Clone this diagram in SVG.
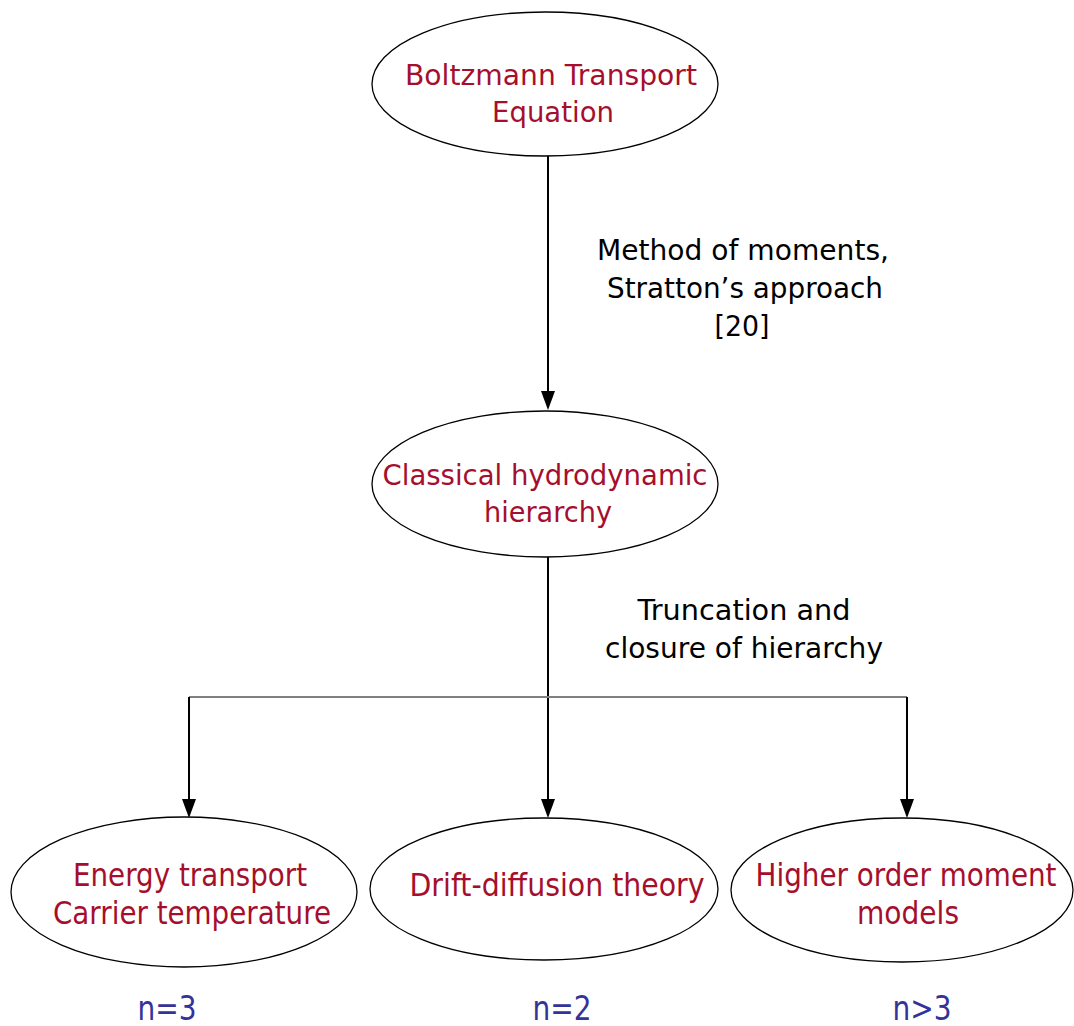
<svg xmlns="http://www.w3.org/2000/svg" width="1074" height="1026" viewBox="0 0 1074 1026">
<style>
.node ellipse{fill:#fff;stroke:#000;stroke-width:1.3}
.nt{font-family:"DejaVu Sans",Verdana,sans-serif;font-size:28px;fill:#a50f2d;text-anchor:middle}
.nb{font-size:32px}
.lt{font-family:"DejaVu Sans",Verdana,sans-serif;font-size:28px;fill:#000;text-anchor:middle}
.bt{font-family:"DejaVu Sans",Verdana,sans-serif;font-size:33px;fill:#333399;text-anchor:middle}
.edge{stroke:#000;stroke-width:2;fill:none}
</style>
<rect width="1074" height="1026" fill="#fff"/>
<g id="connectors">
<line class="edge" x1="548" y1="155" x2="548" y2="393"/>
<path d="M541,391 L555,391 L548,410 Z" fill="#000"/>
<line class="edge" x1="548" y1="557" x2="548" y2="801"/>
<path d="M541,799 L555,799 L548,818 Z" fill="#000"/>
<line x1="189" y1="697" x2="907" y2="697" stroke="#808080" stroke-width="2"/>
<line class="edge" x1="189" y1="697" x2="189" y2="801"/>
<path d="M182,799 L196,799 L189,818 Z" fill="#000"/>
<line class="edge" x1="907" y1="697" x2="907" y2="801"/>
<path d="M900,799 L914,799 L907,818 Z" fill="#000"/>
<g id="label1">
<text class="lt" x="743" y="260" textLength="292" lengthAdjust="spacingAndGlyphs">Method of moments,</text>
<text class="lt" x="745" y="298" textLength="276" lengthAdjust="spacingAndGlyphs">Stratton’s approach</text>
<text class="lt" x="742" y="336" textLength="55" lengthAdjust="spacingAndGlyphs">[20]</text>
</g>
<g id="label2">
<text class="lt" x="744" y="620" textLength="213" lengthAdjust="spacingAndGlyphs">Truncation and</text>
<text class="lt" x="744" y="658" textLength="278" lengthAdjust="spacingAndGlyphs">closure of hierarchy</text>
</g>
</g>
<g id="bte" class="node">
<ellipse cx="545" cy="84" rx="173" ry="72"/>
<text class="nt" x="551" y="85" textLength="292" lengthAdjust="spacingAndGlyphs">Boltzmann Transport</text>
<text class="nt" x="553" y="122" textLength="122" lengthAdjust="spacingAndGlyphs">Equation</text>
</g>
<g id="chh" class="node">
<ellipse cx="545" cy="484" rx="173" ry="73"/>
<text class="nt" x="545" y="485" textLength="325" lengthAdjust="spacingAndGlyphs">Classical hydrodynamic</text>
<text class="nt" x="548" y="522" textLength="128" lengthAdjust="spacingAndGlyphs">hierarchy</text>
</g>
<g id="et" class="node">
<ellipse cx="184" cy="892" rx="173" ry="75"/>
<text class="nt nb" x="190" y="886" textLength="234" lengthAdjust="spacingAndGlyphs">Energy transport</text>
<text class="nt nb" x="192" y="924" textLength="278" lengthAdjust="spacingAndGlyphs">Carrier temperature</text>
</g>
<g id="dd" class="node">
<ellipse cx="544" cy="889" rx="174" ry="71"/>
<text class="nt nb" x="557" y="896" textLength="295" lengthAdjust="spacingAndGlyphs">Drift-diffusion theory</text>
</g>
<g id="hom" class="node">
<ellipse cx="902" cy="890" rx="171" ry="72"/>
<text class="nt nb" x="906" y="886" textLength="301" lengthAdjust="spacingAndGlyphs">Higher order moment</text>
<text class="nt nb" x="908" y="924" textLength="102" lengthAdjust="spacingAndGlyphs">models</text>
</g>
<g id="orders">
<text class="bt" x="167" y="1020" textLength="59" lengthAdjust="spacingAndGlyphs">n=3</text>
<text class="bt" x="562" y="1020" textLength="59" lengthAdjust="spacingAndGlyphs">n=2</text>
<text class="bt" x="922" y="1020" textLength="59" lengthAdjust="spacingAndGlyphs">n&gt;3</text>
</g>
</svg>
